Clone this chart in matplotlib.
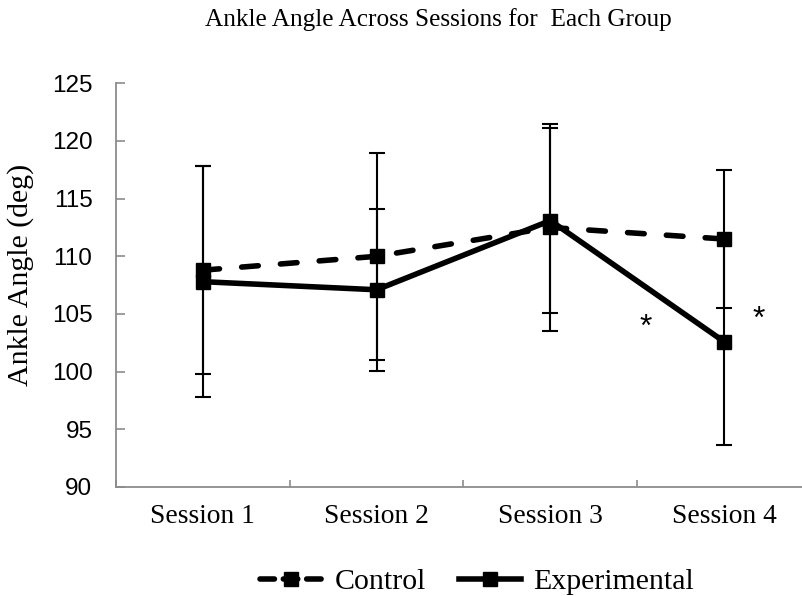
import matplotlib
matplotlib.use('Agg')
import matplotlib.pyplot as plt
from matplotlib.ticker import FixedLocator
from matplotlib.lines import Line2D

# data
sessions = ['Session 1', 'Session 2', 'Session 3', 'Session 4']
control_mean = [108.8, 110.0, 112.5, 111.5]
control_sd = [9.0, 9.0, 9.0, 6.0]
exp_mean = [107.8, 107.1, 113.1, 102.6]
exp_sd = [10.0, 7.0, 8.0, 9.0]
star_x = [3.55, 4.2]
star_y = [103.8, 104.5]

W, H = 803, 596
fig = plt.figure(figsize=(W / 100, H / 100), dpi=100)
ax = fig.add_axes([116 / W, 1 - 487 / H, 695 / W, (487 - 83.3) / H])

x = list(range(1, len(sessions) + 1))
serif = ['Liberation Serif', 'DejaVu Serif']
sans = ['Liberation Sans', 'DejaVu Sans']
dash = (0, (3, 4))

common = dict(color='black', marker='s', markersize=10.5, linewidth=4,
              ecolor='black', elinewidth=1.5, capsize=5.8, capthick=1.5)
ax.errorbar(x, control_mean, yerr=control_sd, linestyle=dash,
            dash_capstyle='round', **common)
ax.errorbar(x, exp_mean, yerr=exp_sd, linestyle='-', **common)

for sx, sy in zip(star_x, star_y):
    ax.text(sx, sy, '*', fontsize=23, family=sans, ha='center', va='center')

ax.set_xlim(0.5, 4.5)
ax.set_ylim(90, 125)
ax.set_yticks(range(90, 126, 5))
ax.set_xticks(x)
ax.set_xticklabels(sessions, family=serif, fontsize=19.8)
ax.xaxis.set_minor_locator(FixedLocator([0.5, 1.5, 2.5, 3.5, 4.5]))
for lab in ax.get_yticklabels():
    lab.set_family(sans)
    lab.set_fontsize(17.5)

gray = '#8c8c8c'
ax.tick_params(axis='y', direction='in', length=6.5, width=1.2, color=gray, pad=17)
ax.tick_params(axis='x', which='major', length=0, pad=12)
ax.tick_params(axis='x', which='minor', direction='in', length=5, width=1.2, color=gray)
for side in ['top', 'right']:
    ax.spines[side].set_visible(False)
for side in ['left', 'bottom']:
    ax.spines[side].set_color(gray)
    ax.spines[side].set_linewidth(1.3)

fig.text(21 / W, 1 - 275 / H, 'Ankle Angle (deg)', family=serif, fontsize=21.5,
         rotation=90, ha='center', va='center')

fig.text(438 / W, 1 - 20 / H, 'Ankle Angle Across Sessions for  Each Group',
         family=serif, fontsize=18.2, ha='center', va='center')

handles = [
    Line2D([], [], color='black', marker='s', markersize=10.5, linewidth=4,
           linestyle=(0, (2.6, 1.6)), dash_capstyle='round'),
    Line2D([], [], color='black', marker='s', markersize=10.5, linewidth=4),
]
fig.legend(handles, ['Control', 'Experimental'], loc='center',
           bbox_to_anchor=(477 / W, 1 - 582 / H), ncol=2, frameon=False,
           prop={'family': serif, 'size': 21.5}, handlelength=2.1,
           handletextpad=0.4, columnspacing=1.1, borderaxespad=0, borderpad=0)

fig.savefig('out.png', dpi=100)
